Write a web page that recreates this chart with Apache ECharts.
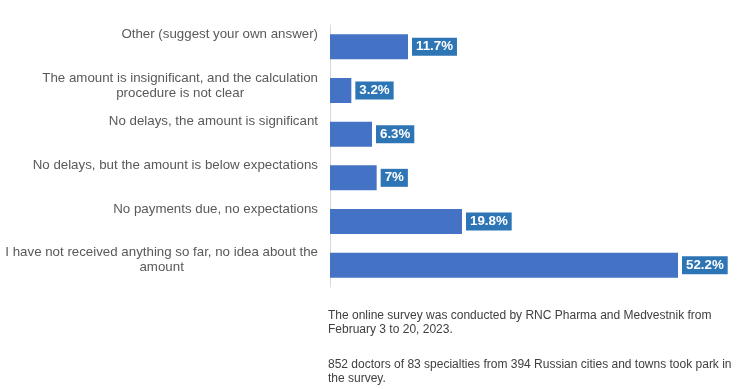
<!DOCTYPE html>
<html>
<head>
<meta charset="utf-8">
<script src="https://cdn.jsdelivr.net/npm/echarts@6/dist/echarts.min.js"></script>
<style>html,body{margin:0;padding:0;background:#fff}#c{width:747px;height:389px}</style>
</head>
<body>
<div id="c"></div>
<script>
const categories = [
  "Other (suggest your own answer)",
  "The amount is insignificant, and the calculation\nprocedure is not clear",
  "No delays, the amount is significant",
  "No delays, but the amount is below expectations",
  "No payments due, no expectations",
  "I have not received anything so far, no idea about the\namount"
];
const values = [11.7, 3.2, 6.3, 7, 19.8, 52.2];
const valueLabels = ["11.7%", "3.2%", "6.3%", "7%", "19.8%", "52.2%"];
const noteParagraphs = [
  ["The online survey was conducted by RNC Pharma and Medvestnik from", "February 3 to 20, 2023."],
  ["852 doctors of 83 specialties from 394 Russian cities and towns took park in", "the survey."]
];

const chart = echarts.init(document.getElementById('c'), null, {renderer: 'canvas'});
const labelCats = categories.concat(['']);
const graphics = [];
let y = 310;
noteParagraphs.forEach(function (para) {
  para.forEach(function (t) {
    graphics.push({type: 'text', left: 328, top: y,
      style: {text: t, fontFamily: 'Liberation Sans', fontSize: 12, fill: '#404040'}});
    y += 14;
  });
  y += 21;
});
chart.setOption({
  animation: false,
  grid: {left: 330, width: 400, top: 25, height: 262},
  xAxis: {type: 'value', min: 0, max: 60, show: false},
  yAxis: [
    {
      type: 'category', data: categories, inverse: true,
      axisLine: {show: true, lineStyle: {color: '#D9D9D9', width: 1}},
      axisTick: {show: false}, axisLabel: {show: false}, splitLine: {show: false}
    },
    {
      type: 'category', data: labelCats, inverse: true, boundaryGap: false,
      position: 'left',
      axisLine: {show: false}, axisTick: {show: false}, splitLine: {show: false},
      axisLabel: {
        show: true, interval: 0, margin: 12, align: 'right', verticalAlign: 'top',
        padding: [2, 0, 0, 0],
        formatter: function (v) {
          if (!v) return '';
          return v.split('\n').map(function (s) { return '{a|' + s + '}'; }).join('\n');
        },
        rich: {a: {align: 'center', fontFamily: 'Liberation Sans', fontSize: 13.3, color: '#595959', lineHeight: 15}}
      }
    }
  ],
  series: [{
    type: 'bar', data: values, barWidth: 25, yAxisIndex: 0,
    itemStyle: {color: '#4472C4'},
    label: {
      show: true, position: 'right', distance: 4,
      formatter: function (p) { return valueLabels[p.dataIndex]; },
      color: '#FFFFFF', fontWeight: 'bold', fontFamily: 'Liberation Sans', fontSize: 13.3,
      backgroundColor: '#2E75B6', padding: [3, 4, 2, 4]
    }
  }],
  graphic: graphics
});
</script>
</body>
</html>
